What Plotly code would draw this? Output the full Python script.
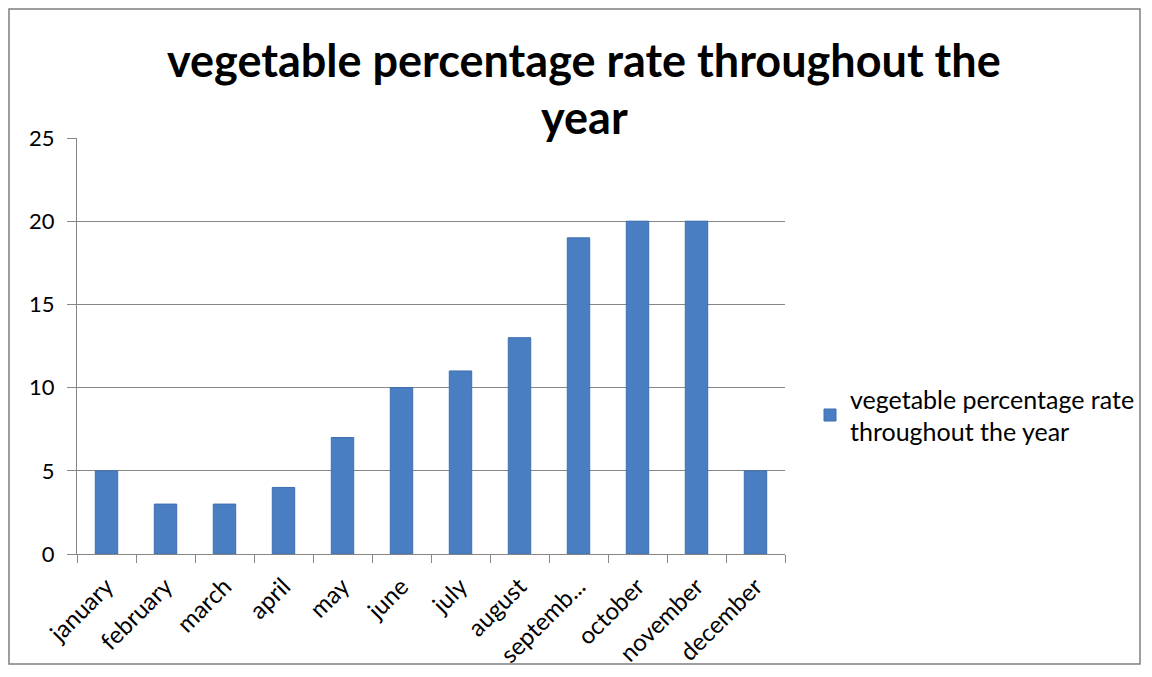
import plotly.graph_objects as go

months = ["january", "february", "march", "april", "may", "june", "july",
          "august", "septemb...", "october", "november", "december"]
values = [5, 3, 3, 4, 7, 10, 11, 13, 19, 20, 20, 5]
series_name = "vegetable percentage rate<br>throughout the year"
y_ticks = [0, 5, 10, 15, 20, 25]

# page offset (body margin) compensation
OX, OY = 8, 8
W, H = 1152 - OX, 677 - OY
L = 77 - OX
T = 138 - OY
R = W - (785 - OX)
B = H - (554 - OY)
pw, ph = W - L - R, H - T - B

def px_x(x):
    return (x - OX - L) / pw

def px_y(y):
    return (H - B - (y - OY)) / ph

fig = go.Figure()
fig.add_trace(go.Bar(
    x=months, y=values, name=series_name,
    marker=dict(color="#4a7ec2", line=dict(color="#3f6fae", width=1)),
    showlegend=True,
))

font_family = "Lato, 'Open Sans', sans-serif"

fig.update_layout(
    width=W, height=H,
    margin=dict(l=L, r=R, t=T, b=B, autoexpand=False),
    paper_bgcolor="white", plot_bgcolor="white",
    bargap=0.62,
    font=dict(family=font_family, color="#000000"),
    showlegend=True,
    legend=dict(x=px_x(810), y=px_y(415), xanchor="left", yanchor="middle",
                font=dict(size=25, family=font_family, color="#000"),
                itemwidth=30, tracegroupgap=0, bgcolor="rgba(0,0,0,0)"),
    xaxis=dict(
        type="category", tickson="boundaries", ticks="outside", ticklen=8,
        tickcolor="#868686", showline=True, linecolor="#868686", linewidth=1,
        tickangle=-45, tickfont=dict(size=24, family=font_family),
        showgrid=False, ticklabelstandoff=8,
    ),
    yaxis=dict(
        range=[0, 25], tickvals=y_ticks, ticks="outside", ticklen=9,
        tickcolor="#868686", showline=True, linecolor="#868686", linewidth=1,
        showgrid=True, gridcolor="#868686", gridwidth=1,
        tickfont=dict(size=22, family=font_family), zeroline=False,
        ticklabelstandoff=8,
    ),
    shapes=[dict(type="rect", xref="paper", yref="paper",
                 x0=px_x(9), x1=px_x(1140), y0=px_y(664), y1=px_y(9),
                 line=dict(color="#7f7f7f", width=1.5), fillcolor="rgba(0,0,0,0)",
                 layer="below")],
    annotations=[
        dict(text="<b>vegetable percentage rate throughout the</b>", xref="paper", yref="paper",
             x=px_x(584), y=px_y(60), xanchor="center", yanchor="middle", showarrow=False,
             font=dict(size=45, family=font_family, color="#000")),
        dict(text="<b>year</b>", xref="paper", yref="paper",
             x=px_x(584), y=px_y(117), xanchor="center", yanchor="middle", showarrow=False,
             font=dict(size=45, family=font_family, color="#000")),
    ],
)

fig.write_html("out.html")
